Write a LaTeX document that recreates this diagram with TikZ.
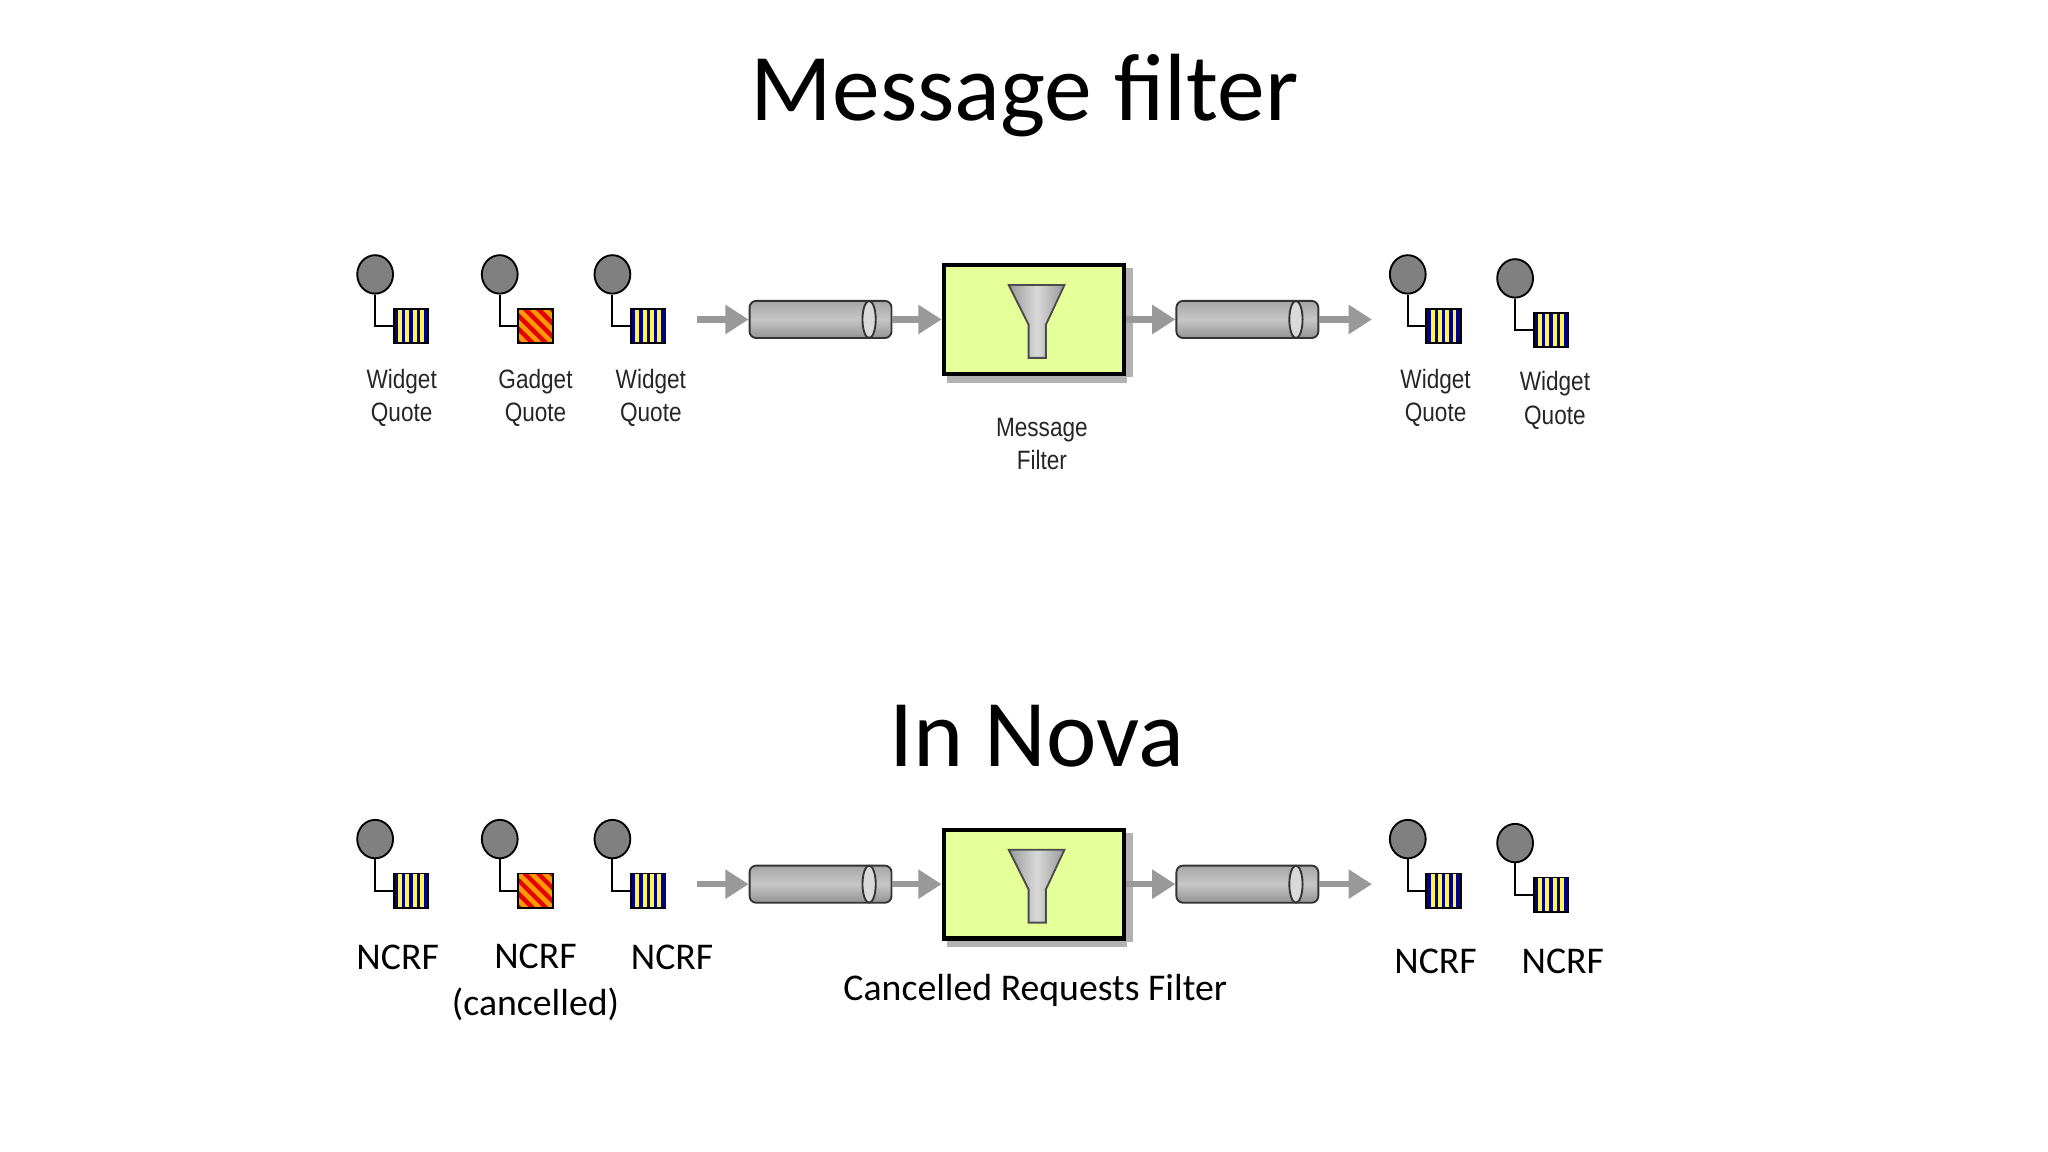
\documentclass[tikz,border=0pt]{standalone}
\usepackage{fontspec}
\setmainfont{Carlito}
\newfontfamily\eipfont{Liberation Sans}[FakeStretch=0.85]
\usetikzlibrary{shapes.geometric,arrows.meta,positioning}

\tikzset{
  head/.style={ellipse,draw=black,thin,fill=gray!75!black!80,minimum width=0.27cm,minimum height=0.29cm,inner sep=0pt},
  body/.style={rectangle,draw=black,thin,minimum size=0.26cm,inner sep=0pt},
  widget/.style={body,fill=blue!55!black,path picture={
      \foreach \i in {-1.5,-0.5,0.5,1.5}
        \fill[yellow!70!white] ([xshift=\i*0.055cm-0.015cm]path picture bounding box.south) rectangle ++(0.03cm,0.26cm);}},
  gadget/.style={body,fill=red!90!black,path picture={
      \foreach \i in {-3,...,3}
        \draw[orange!80!yellow,line width=0.035cm] ([xshift=\i*0.1cm]path picture bounding box.center) ++(-0.2cm,0.2cm) -- ++(0.4cm,-0.4cm);}},
  pipe/.style={rectangle,rounded corners=0.05cm,draw=black!80,thin,minimum width=1.07cm,minimum height=0.28cm,
      top color=gray!70,bottom color=gray!85,middle color=gray!45,inner sep=0pt},
  pipeend/.style={draw=black!80,thin,fill=gray!30},
  filter/.style={rectangle,draw=black,line width=0.9pt,fill=green!25!yellow!40,minimum width=1.36cm,minimum height=0.82cm},
  flow/.style={draw=gray!80,line width=1.4pt,-{Triangle[length=5pt,width=6pt]}},
  eip/.style={font=\eipfont\fontsize{5.7}{7.2}\selectfont,align=center,text=black!85},
  nova/.style={font=\fontsize{8.1}{10}\selectfont,align=center},
  big/.style={font=\fontsize{20.5}{24}\selectfont}
}

% one quote message: name, x, y, style
\newcommand{\quotemsg}[4]{
  \node[head] (#1h) at (#2,#3) {};
  \node[#4] (#1b) at (#2+27,#3+39) {};
  \draw[black,thin] (#1h.south) |- (#1b.west);
}

\begin{document}
\begin{tikzpicture}[x=0.01cm,y=-0.01cm]
  \useasboundingbox (0,0) rectangle (1545,869);

  %Top: message filter
  \node[big] (title) at (773,72) {Message filter};

  \quotemsg{a}{283}{207}{widget}
  \quotemsg{b}{377}{207}{gadget}
  \quotemsg{c}{462}{207}{widget}
  \quotemsg{d}{1062}{207}{widget}
  \quotemsg{e}{1143}{210}{widget}

  \coordinate (in) at (526,241);
  \node[pipe] (p1) at (619,241) {};
  \draw[pipeend] ([xshift=-5]p1.east) ellipse (5 and 14);
  \node[filter] (f) at (780,241) {};
  \fill[black!30] (f.south west) ++(4,0) rectangle ++(136,5);
  \fill[black!30] (f.north east) ++(0,4) rectangle ++(5,82);
  \node[pipe] (p2) at (941,241) {};
  \draw[pipeend] ([xshift=-5]p2.east) ellipse (5 and 14);
  \coordinate (out) at (1035,241);
  \filldraw[draw=black!70,left color=gray!80,right color=gray!80,middle color=gray!30]
    (761,215) -- (803,215) -- (789,245) -- (789,270) -- (776,270) -- (776,245) -- cycle;

  \draw[flow] (in) -- (p1.west);
  \draw[flow] (p1.east) -- (f.west);
  \draw[flow] (f.east) -- (p2.west);
  \draw[flow] (p2.east) -- (out);

  \node[eip] (la) at (303,300) {Widget\\Quote};
  \node[eip] (lb) at (404,300) {Gadget\\Quote};
  \node[eip] (lc) at (491,300) {Widget\\Quote};
  \node[eip] (lf) at (786,335) {Message\\Filter};
  \node[eip] (ld) at (1083,300) {Widget\\Quote};
  \node[eip] (le) at (1173,302) {Widget\\Quote};

  %Bottom: in Nova
  \node[big] (title2) at (782,555) {In Nova};

  \quotemsg{na}{283}{633}{widget}
  \quotemsg{nb}{377}{633}{gadget}
  \quotemsg{nc}{462}{633}{widget}
  \quotemsg{nd}{1062}{633}{widget}
  \quotemsg{ne}{1143}{636}{widget}

  \coordinate (nin) at (526,667);
  \node[pipe] (np1) at (619,667) {};
  \draw[pipeend] ([xshift=-5]np1.east) ellipse (5 and 14);
  \node[filter] (nf) at (780,667) {};
  \fill[black!30] (nf.south west) ++(4,0) rectangle ++(136,5);
  \fill[black!30] (nf.north east) ++(0,4) rectangle ++(5,82);
  \node[pipe] (np2) at (941,667) {};
  \draw[pipeend] ([xshift=-5]np2.east) ellipse (5 and 14);
  \coordinate (nout) at (1035,667);
  \filldraw[draw=black!70,left color=gray!80,right color=gray!80,middle color=gray!30]
    (761,641) -- (803,641) -- (789,671) -- (789,696) -- (776,696) -- (776,671) -- cycle;

  \draw[flow] (nin) -- (np1.west);
  \draw[flow] (np1.east) -- (nf.west);
  \draw[flow] (nf.east) -- (np2.west);
  \draw[flow] (np2.east) -- (nout);

  \node[nova] (nla) at (300,722) {NCRF};
  \node[nova] (nlb) at (404,741) {NCRF\\(cancelled)};
  \node[nova] (nlc) at (507,722) {NCRF};
  \node[nova] (nlf) at (781,747) {Cancelled Requests Filter};
  \node[nova] (nld) at (1083,725) {NCRF};
  \node[nova] (nle) at (1179,725) {NCRF};
\end{tikzpicture}
\end{document}
